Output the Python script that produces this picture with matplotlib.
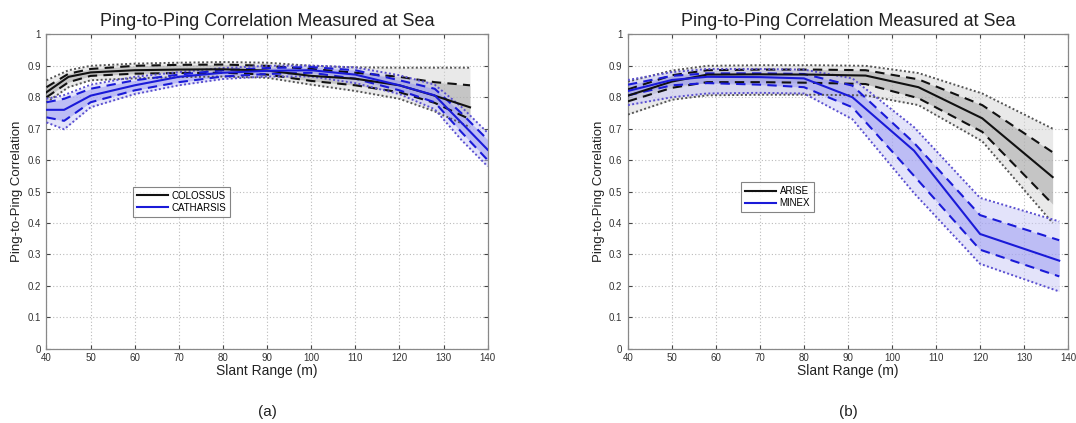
import matplotlib
matplotlib.use("Agg")
import matplotlib.pyplot as plt
import numpy as np

# ---- (a) COLOSSUS vs CATHARSIS ----
col_x = [40, 45, 50, 60, 70, 80, 90, 100, 110, 120, 128, 136]
col_med = [0.816, 0.865, 0.879, 0.886, 0.888, 0.889, 0.885, 0.868, 0.859, 0.838, 0.805, 0.768]
col_q_hi = [0.832, 0.875, 0.890, 0.900, 0.903, 0.904, 0.900, 0.890, 0.878, 0.865, 0.848, 0.838]
col_q_lo = [0.800, 0.848, 0.868, 0.875, 0.877, 0.878, 0.872, 0.852, 0.838, 0.816, 0.782, 0.730]
col_p_hi = [0.854, 0.886, 0.900, 0.907, 0.910, 0.912, 0.910, 0.900, 0.895, 0.894, 0.894, 0.894]
col_p_lo = [0.784, 0.832, 0.854, 0.860, 0.864, 0.866, 0.862, 0.840, 0.820, 0.795, 0.755, 0.705]

cat_x = [40, 44, 50, 60, 70, 80, 90, 100, 110, 120, 128, 134, 140]
cat_med = [0.760, 0.760, 0.805, 0.838, 0.865, 0.878, 0.884, 0.886, 0.872, 0.838, 0.806, 0.720, 0.633]
cat_q_hi = [0.784, 0.795, 0.827, 0.854, 0.872, 0.886, 0.893, 0.896, 0.886, 0.854, 0.827, 0.750, 0.665]
cat_q_lo = [0.736, 0.725, 0.784, 0.822, 0.848, 0.866, 0.874, 0.878, 0.859, 0.822, 0.784, 0.690, 0.600]
cat_p_hi = [0.795, 0.807, 0.840, 0.865, 0.880, 0.893, 0.900, 0.901, 0.895, 0.870, 0.840, 0.770, 0.687]
cat_p_lo = [0.720, 0.698, 0.768, 0.810, 0.838, 0.858, 0.866, 0.866, 0.845, 0.810, 0.762, 0.665, 0.580]

# ---- (b) ARISE vs MINEX ----
ari_x = [40, 50, 58, 70, 82, 94, 106, 120.5, 136.5]
ari_med = [0.805, 0.850, 0.872, 0.873, 0.872, 0.869, 0.832, 0.733, 0.546]
ari_q_hi = [0.825, 0.870, 0.886, 0.888, 0.888, 0.886, 0.857, 0.775, 0.625]
ari_q_lo = [0.787, 0.830, 0.848, 0.848, 0.846, 0.842, 0.797, 0.690, 0.460]
ari_p_hi = [0.850, 0.885, 0.900, 0.902, 0.902, 0.900, 0.877, 0.812, 0.700]
ari_p_lo = [0.745, 0.792, 0.806, 0.808, 0.808, 0.806, 0.775, 0.660, 0.400]

min_x = [40, 50, 58, 70, 80, 91, 105, 120, 138]
min_med = [0.820, 0.855, 0.865, 0.864, 0.860, 0.800, 0.630, 0.365, 0.280]
min_q_hi = [0.840, 0.868, 0.876, 0.876, 0.874, 0.837, 0.655, 0.425, 0.345]
min_q_lo = [0.806, 0.838, 0.845, 0.840, 0.832, 0.768, 0.550, 0.315, 0.230]
min_p_hi = [0.855, 0.880, 0.890, 0.890, 0.888, 0.860, 0.705, 0.480, 0.405]
min_p_lo = [0.775, 0.800, 0.812, 0.814, 0.812, 0.730, 0.495, 0.270, 0.182]

x_ticks = list(range(40, 141, 10))
y_ticks = [0, 0.1, 0.2, 0.3, 0.4, 0.5, 0.6, 0.7, 0.8, 0.9, 1]
y_tick_labels = ["0", "0.1", "0.2", "0.3", "0.4", "0.5", "0.6", "0.7", "0.8", "0.9", "1"]

TITLE = "Ping-to-Ping Correlation Measured at Sea"
XLABEL = "Slant Range (m)"
YLABEL = "Ping-to-Ping Correlation"

plt.rcParams["font.family"] = ["Liberation Sans", "DejaVu Sans"]

fig = plt.figure(figsize=(10.76, 4.23), dpi=100)
ax_a = fig.add_axes([0.0432, 0.1757, 0.410, 0.743])
ax_b = fig.add_axes([0.5836, 0.1757, 0.409, 0.743])

STYLES = {
    "k": dict(line="#111111", dot="#555555", light="#d4d4d4", dark="#9a9a9a"),
    "b": dict(line="#1a1ad8", dot="#5a4fd0", light="#c8c8f6", dark="#8f8ff0"),
}


def draw_series(ax, x, med, qlo, qhi, plo, phi, key, label):
    st = STYLES[key]
    ax.fill_between(x, plo, phi, color=st["light"], alpha=0.5, lw=0, zorder=2)
    ax.fill_between(x, qlo, qhi, color=st["dark"], alpha=0.45, lw=0, zorder=2)
    for y in (plo, phi):
        ax.plot(x, y, color=st["dot"], lw=1.4, ls=(0, (1, 1.2)), zorder=3)
    for y in (qlo, qhi):
        ax.plot(x, y, color=st["line"], lw=1.5, ls=(0, (4.5, 3)), zorder=3)
    ax.plot(x, med, color=st["line"], lw=1.5, zorder=4, label=label)


def style_axes(ax, panel):
    ax.set_xlim(40, 140)
    ax.set_ylim(0, 1)
    ax.set_xticks(x_ticks)
    ax.set_yticks(y_ticks)
    ax.set_yticklabels(y_tick_labels)
    ax.tick_params(direction="in", top=True, right=True, length=3,
                   labelsize=7, colors="#444444", labelcolor="#333333")
    ax.tick_params(axis="x", pad=3)
    ax.tick_params(axis="y", pad=4)
    ax.grid(True, color="#bbbbbb", ls=(0, (1, 2)), lw=0.8)
    for sp in ax.spines.values():
        sp.set_color("#888888")
        sp.set_linewidth(0.9)
    ax.set_title(TITLE, fontsize=13, pad=6, color="#222222")
    ax.set_xlabel(XLABEL, fontsize=10, labelpad=1, color="#222222")
    ax.set_ylabel(YLABEL, fontsize=9.5, labelpad=3, color="#222222")
    ax.text(0.5, -0.2, panel, transform=ax.transAxes, ha="center",
            va="center", fontsize=11, color="#222222")


draw_series(ax_a, col_x, col_med, col_q_lo, col_q_hi, col_p_lo, col_p_hi, "k", "COLOSSUS")
draw_series(ax_a, cat_x, cat_med, cat_q_lo, cat_q_hi, cat_p_lo, cat_p_hi, "b", "CATHARSIS")
draw_series(ax_b, ari_x, ari_med, ari_q_lo, ari_q_hi, ari_p_lo, ari_p_hi, "k", "ARISE")
draw_series(ax_b, min_x, min_med, min_q_lo, min_q_hi, min_p_lo, min_p_hi, "b", "MINEX")

style_axes(ax_a, "(a)")
style_axes(ax_b, "(b)")

for ax, anchor in ((ax_a, (0.185, 0.53)), (ax_b, (0.245, 0.545))):
    leg = ax.legend(loc="upper left", bbox_to_anchor=anchor, fontsize=7,
                    frameon=True, fancybox=False, handlelength=3.2,
                    handletextpad=0.4, borderpad=0.4, labelspacing=0.2)
    leg.get_frame().set_edgecolor("#666666")
    leg.get_frame().set_linewidth(0.8)

fig.savefig("out.png", dpi=100)
